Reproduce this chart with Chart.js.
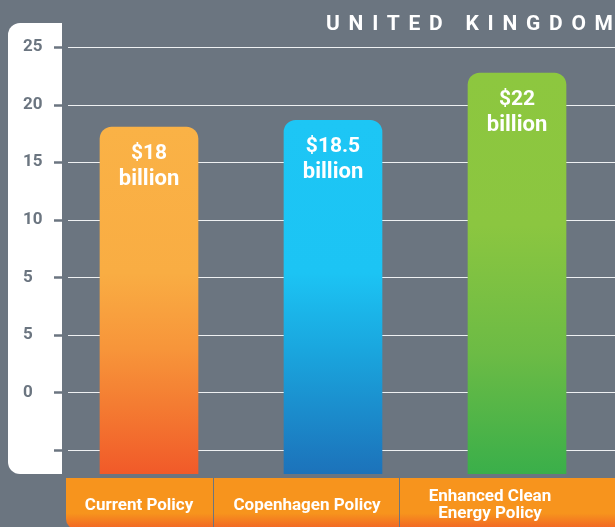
<!DOCTYPE html>
<html>
<head>
<meta charset="utf-8">
<script src="https://cdn.jsdelivr.net/npm/chart.js@4"></script>
<style>
  html, body { margin: 0; padding: 0; background: #6b7580; }
  #wrap { width: 615px; height: 527px; position: relative; }
</style>
</head>
<body>
<div id="wrap"><canvas id="policyChart"></canvas></div>
<script>
// --- Data ---
const categories = [['Current Policy'], ['Copenhagen Policy'], ['Enhanced Clean', 'Energy Policy']];
const costValues = [18, 18.5, 22];
const valueLabels = ['$18', '$18.5', '$22'];
const valueUnit = 'billion';
// tick labels as printed on the panel, bottom to top
const tickLabels = ['', '0', '5', '5', '10', '15', '20', '25'];
const chartTitle = 'UNITED KINGDOM';

// --- Styles ---
const BG = '#6b7580';
const FONT = 'Roboto, "DejaVu Sans", sans-serif';
const barStops = [
    [[0, '#fab246'], [0.42, '#f9ad43'], [0.64, '#f7953a'], [0.8, '#f47c32'], [1, '#f15a29']],
    [[0, '#1dc6f5'], [0.43, '#1cc4f4'], [0.65, '#1aa6de'], [1, '#1c72ba']],
    [[0, '#8dc73f'], [0.38, '#8bc640'], [0.7, '#6cbb45'], [1, '#3aaf4a']]
];

function barGradient(c) {
    const chart = c.chart;
    const area = chart.chartArea;
    const stops = barStops[c.dataIndex];
    if (!area) return stops[0][1];
    const top = chart.scales.y.getPixelForValue(costValues[c.dataIndex]);
    const g = chart.ctx.createLinearGradient(0, top, 0, area.bottom);
    stops.forEach(s => g.addColorStop(s[0], s[1]));
    return g;
}

// Draws the white tick panel, title, grid lines, bar captions and the category strip
const decorPlugin = {
    id: 'decor',
    beforeDraw(chart) {
        const ctx = chart.ctx;
        ctx.save();
        ctx.fillStyle = BG;
        ctx.fillRect(0, 0, chart.width, chart.height);

        // white tick panel
        ctx.fillStyle = '#ffffff';
        ctx.beginPath();
        ctx.roundRect(8, 23, 54, chart.chartArea.bottom - 23, [12, 0, 0, 12]);
        ctx.fill();

        // title with wide letter spacing
        ctx.font = 'bold 21px ' + FONT;
        ctx.fillStyle = '#ffffff';
        ctx.textBaseline = 'alphabetic';
        ctx.letterSpacing = '0px';
        const natural = ctx.measureText(chartTitle).width;
        const spacing = (287 - natural) / (chartTitle.length - 1);
        ctx.letterSpacing = spacing + 'px';
        ctx.fillText(chartTitle, 326, 30);
        ctx.letterSpacing = '0px';
        ctx.restore();
    },
    beforeDatasetsDraw(chart) {
        const ctx = chart.ctx;
        const yt = chart.scales.yt;
        ctx.save();
        tickLabels.forEach((_, i) => {
            const y = Math.round(yt.getPixelForValue(i)) + 0.5;
            ctx.strokeStyle = '#eef0f2';
            ctx.lineWidth = 1.2;
            ctx.beginPath();
            ctx.moveTo(68, y);
            ctx.lineTo(chart.width, y);
            ctx.stroke();
            ctx.strokeStyle = BG;
            ctx.lineWidth = 2.5;
            ctx.beginPath();
            ctx.moveTo(54, y);
            ctx.lineTo(62, y);
            ctx.stroke();
        });
        ctx.restore();
    },
    afterDatasetsDraw(chart) {
        const ctx = chart.ctx;
        const meta = chart.getDatasetMeta(0);
        ctx.save();
        ctx.fillStyle = '#ffffff';
        ctx.textAlign = 'center';
        ctx.textBaseline = 'alphabetic';
        meta.data.forEach((bar, i) => {
            ctx.font = 'bold 21px ' + FONT;
            ctx.fillText(valueLabels[i], bar.x, bar.y + 32);
            ctx.font = 'bold 22px ' + FONT;
            ctx.fillText(valueUnit, bar.x, bar.y + 58);
        });
        ctx.restore();
    },
    afterDraw(chart) {
        const ctx = chart.ctx;
        const top = 478;
        const bottom = chart.height;
        ctx.save();
        const g = ctx.createLinearGradient(0, top, 0, bottom);
        g.addColorStop(0, '#f7941d');
        g.addColorStop(0.72, '#f7941d');
        g.addColorStop(1, '#f26a24');
        ctx.fillStyle = g;
        ctx.beginPath();
        ctx.roundRect(66, top, chart.width - 66 + 10, bottom - top + 2, [0, 0, 0, 10]);
        ctx.fill();

        // dividers
        ctx.strokeStyle = BG;
        ctx.lineWidth = 1;
        [213.5, 399.5].forEach(x => {
            ctx.beginPath();
            ctx.moveTo(x, top);
            ctx.lineTo(x, bottom);
            ctx.stroke();
        });

        // category names
        const centers = [139, 307, 490];
        ctx.fillStyle = '#ffffff';
        ctx.textAlign = 'center';
        ctx.textBaseline = 'alphabetic';
        ctx.font = 'bold 17px ' + FONT;
        categories.forEach((lines, i) => {
            if (lines.length === 1) {
                ctx.fillText(lines[0], centers[i], 510);
            } else {
                ctx.fillText(lines[0], centers[i], 501);
                ctx.fillText(lines[1], centers[i], 518);
            }
        });
        ctx.restore();
    }
};

// --- Chart ---
const BAR_MIN = -7.7;
const ctxPolicy = document.getElementById('policyChart').getContext('2d');
new Chart(ctxPolicy, {
    type: 'bar',
    data: {
        labels: categories.map(c => c.join(' ')),
        datasets: [{
            data: costValues,
            base: BAR_MIN,
            yAxisID: 'y',
            backgroundColor: barGradient,
            borderRadius: { topLeft: 12, topRight: 12, bottomLeft: 0, bottomRight: 0 },
            borderSkipped: 'start',
            barThickness: 98
        }]
    },
    options: {
        responsive: true,
        maintainAspectRatio: false,
        animation: false,
        layout: { padding: { left: 23, right: 6, top: 47, bottom: 53 } },
        plugins: {
            legend: { display: false },
            tooltip: { enabled: false }
        },
        scales: {
            x: { display: false },
            y: { display: false, min: BAR_MIN, max: 23.93 },
            yt: {
                position: 'left',
                min: -0.417,
                max: 7,
                afterBuildTicks: s => { s.ticks = tickLabels.map((_, i) => ({ value: i })); },
                afterFit: s => { s.width = 34; },
                grid: { display: false },
                border: { display: false },
                ticks: {
                    crossAlign: 'far',
                    padding: 0,
                    color: BG,
                    font: { family: FONT, size: 17, weight: 'bold' },
                    callback: v => tickLabels[v]
                }
            }
        }
    },
    plugins: [decorPlugin]
});
</script>
</body>
</html>
